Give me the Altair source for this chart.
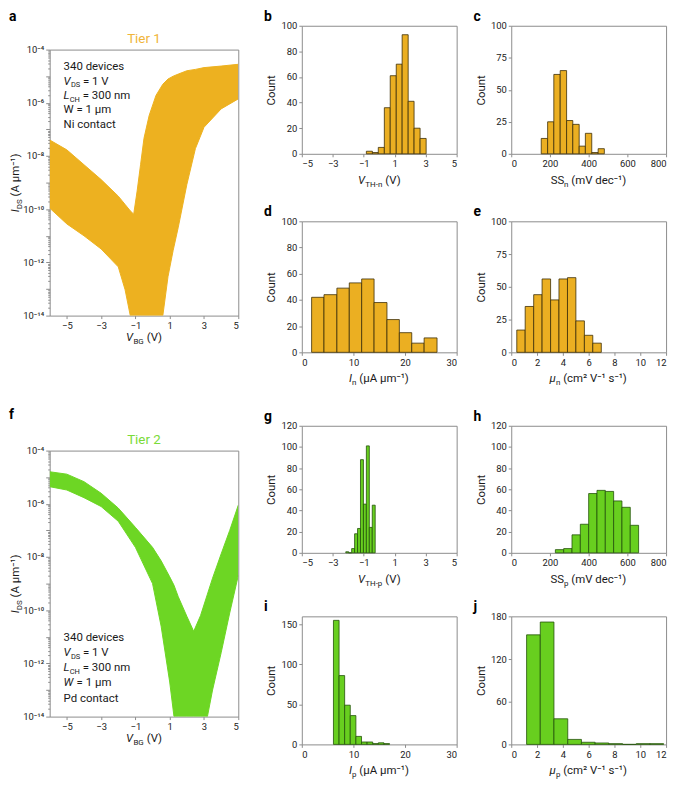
import altair as alt
import pandas as pd

# ---------------- data ----------------
# (a) Tier 1 transfer curves: envelope of the 340 curves
a_vbg = [-6, -5, -4, -3, -2, -1.6, -1.3, -1.1, -0.9, -0.7, -0.5, -0.2, 0.2, 0.6, 0.9, 1.2, 1.5, 2.0, 2.5, 3.0, 4.0, 5.0]
a_upper = [4.0e-8, 1.7e-8, 4.7e-9, 1.3e-9, 3.1e-10, 1.5e-10, 8.7e-11, 6.5e-11, 4.8e-10, 4.7e-9, 4.6e-8, 3.3e-7,
           1.9e-6, 5.0e-6, 7.8e-6, 1.0e-5, 1.2e-5, 1.6e-5, 1.8e-5, 2.1e-5, 2.4e-5, 2.8e-5]
a_lower = [1.1e-10, 2.8e-11, 1.0e-11, 3.2e-12, 6.8e-13, 9.3e-14, 1e-14, 1e-14, 1e-14, 1e-14, 1e-14, 1e-14,
           1e-14, 1e-14, 2.9e-13, 2.8e-12, 2.1e-11, 8.5e-10, 1.9e-8, 1.2e-7, 5.9e-7, 1.4e-6]

# (f) Tier 2 transfer curves: envelope of the 340 curves
f_vbg = [-6, -5, -4, -3, -2, -1, 0, 0.5, 1.0, 1.25, 1.5, 2.0, 2.4, 2.8, 3.2, 3.5, 4.0, 4.5, 5.0]
f_upper = [1.6e-5, 1.3e-5, 6.8e-6, 2.5e-6, 6.9e-7, 1.3e-7, 2.3e-8, 7.2e-9, 1.8e-9, 8.7e-10, 3.2e-10, 5.9e-11,
           1.6e-11, 6.3e-11, 4.0e-10, 1.6e-9, 1.3e-8, 1.0e-7, 8.9e-7]
f_lower = [4.4e-6, 3.3e-6, 1.7e-6, 7.9e-7, 2.2e-7, 2.3e-8, 1.0e-9, 2.5e-11, 2.0e-13, 1e-14, 1e-14, 1e-14,
           1e-14, 1e-14, 1e-14, 1.0e-13, 2.5e-12, 7.9e-11, 2.0e-9]

# histograms: bin edges and counts
b_edges = [-0.83, -0.44, -0.06, 0.33, 0.71, 1.10, 1.48, 1.87, 2.25, 2.64, 3.03]
b_counts = [2, 1, 5, 36, 61, 70, 93, 41, 20, 12]
c_edges = [155, 188, 220, 253, 286, 318, 351, 383, 416, 449, 481]
c_counts = [12, 25, 62, 65, 26, 23, 6, 16, 1, 4]
d_edges = [1.9, 4.3, 6.8, 9.2, 11.6, 14.0, 16.5, 18.9, 21.3, 23.7, 26.2]
d_counts = [42, 44, 49, 53, 56, 38, 25, 15, 7, 11]
e_edges = [0.43, 1.08, 1.74, 2.39, 3.05, 3.70, 4.36, 5.01, 5.67, 6.32, 6.98]
e_counts = [17, 35, 44, 56, 40, 56, 57, 24, 13, 7]
g_edges = [-2.16, -1.97, -1.78, -1.59, -1.40, -1.21, -1.02, -0.83, -0.64, -0.45, -0.26]
g_counts = [1, 0, 4, 18, 23, 88, 46, 101, 24, 45]
h_edges = [228, 271, 314, 357, 400, 443, 486, 529, 572, 615, 658]
h_counts = [3, 4, 17, 27, 56, 59, 58, 49, 43, 26]
i_edges = [6.13, 7.22, 8.30, 9.39, 10.48, 11.57, 12.65, 13.74, 14.83, 15.91, 17.0]
i_counts = [155, 86, 49, 36, 10, 3, 3, 1, 2, 1]
j_edges = [1.19, 2.25, 3.31, 4.38, 5.44, 6.50, 7.56, 8.63, 9.69, 10.75, 11.81]
j_counts = [154, 172, 36, 7, 3, 2, 1, 0, 1, 1]

# axis ticks
vth_ticks = [-5, -3, -1, 1, 3, 5]
ss_ticks = [0, 200, 400, 600, 800]
cur_ticks = [0, 10, 20, 30]
mob_ticks = [0, 2, 4, 6, 8, 10, 12]
cnt20 = [0, 20, 40, 60, 80, 100]
cnt25 = [0, 25, 50, 75, 100]
cnt120 = [0, 20, 40, 60, 80, 100, 120]
cnt_i = [0, 50, 100, 150]
cnt_j = [0, 60, 120, 180]
vbg_ticks = [-5, -3, -1, 1, 3, 5]
decades = [1e-4, 1e-5, 1e-6, 1e-7, 1e-8, 1e-9, 1e-10, 1e-11, 1e-12, 1e-13, 1e-14]
decade_labels = {-4: "10⁻⁴", -6: "10⁻⁶", -8: "10⁻⁸", -10: "10⁻¹⁰", -12: "10⁻¹²", -14: "10⁻¹⁴"}

# ---------------- style ----------------
FONT = "Roboto"
INK = "#1a1a1a"
FRAME = "#8c8c8c"
Y1_FILL, Y1_EDGE, Y1_LINE, Y1_TITLE = "#EBAF22", "#3d2f08", "#EDB120", "#F0B53A"
G2_FILL, G2_EDGE, G2_LINE, G2_TITLE = "#68CF1F", "#23520a", "#6DD624", "#7ADB38"
BIG, SUB = 11.5, 8
LET = 14

ONE = pd.DataFrame({"k": [0]})

CW = {ch: 0.562 for ch in "0123456789"}
CW.update({" ": 0.25, "(": 0.34, ")": 0.35, "-": 0.30, "=": 0.55, ".": 0.26, "V": 0.64, "S": 0.59,
           "I": 0.27, "T": 0.60, "H": 0.71, "D": 0.65, "B": 0.63, "G": 0.68, "C": 0.65, "L": 0.54,
           "W": 0.89, "N": 0.71, "P": 0.63, "A": 0.65, "a": 0.54, "b": 0.56, "c": 0.52, "d": 0.56,
           "e": 0.53, "h": 0.55, "i": 0.24, "m": 0.88, "n": 0.55, "o": 0.57, "p": 0.56, "r": 0.34,
           "s": 0.52, "t": 0.33, "u": 0.55, "v": 0.48, "µ": 0.57, "μ": 0.57, "²": 0.36, "¹": 0.36,
           "⁻": 0.42})


def tw(t, s):
    return sum(CW.get(ch, 0.55) for ch in t) * s


def txt(t, x, y, size=BIG, style="normal", weight="normal", color=INK, align="left", angle=0, dy=0):
    kw = dict(text=t, fontSize=size, fontStyle=style, fontWeight=weight, color=color,
              align=align, baseline="alphabetic", font=FONT)
    if angle:
        kw["angle"] = angle
    if dy:
        kw["dy"] = dy
    return alt.Chart(ONE).mark_text(**kw).encode(x=alt.value(x), y=alt.value(y))


def rich(pieces, x, y, anchor="middle", angle=0, color=INK):
    widths = [tw(t, s) for t, s, st, d in pieces]
    pos = -sum(widths) / 2 if anchor == "middle" else 0
    out = []
    for (t, s, st, d), w in zip(pieces, widths):
        lead = len(t) - len(t.lstrip(" "))
        off = pos + tw(" ", s) * lead
        if angle == 0:
            out.append(txt(t.lstrip(" "), x + off, y, size=s, style=st, dy=d, color=color))
        else:
            out.append(txt(t.lstrip(" "), x, y - off, size=s, style=st, dy=d, angle=270, color=color))
        pos += w
    return out


def frame_box(x0, y0, x1, y1):
    # invisible box fixing the layout extent of a panel
    return alt.Chart(ONE).mark_rect(opacity=0).encode(
        x=alt.value(x0), x2=alt.value(x1), y=alt.value(y0), y2=alt.value(y1))


# panel extents around the plot area (left, top, right, bottom)
HL, HT, HR, HB = 42, 19, 10, 36
AL, AT, AR, AB = 41, 22, 8, 36
FT = 47


def hist_panel(edges, counts, xdom, xticks, ydom, yticks, fill, edge, xtitle, letter, w, h):
    df = pd.DataFrame({"x0": edges[:-1], "x1": edges[1:], "n": counts, "z": [0] * len(counts)})
    bars = alt.Chart(df).mark_bar(fill=fill, stroke=edge, strokeWidth=0.8).encode(
        x=alt.X("x0:Q", scale=alt.Scale(domain=xdom, nice=False, zero=False),
                axis=alt.Axis(values=xticks, title=None, labelOverlap=False)),
        x2="x1:Q",
        y=alt.Y("n:Q", scale=alt.Scale(domain=ydom, nice=False),
                axis=alt.Axis(values=yticks, title="Count")),
        y2="z:Q",
    )
    layers = [bars] + rich(xtitle, w / 2, h + 30)
    layers += [txt(letter, -38, -5, size=LET, weight="bold", color="#000"),
               frame_box(-HL, -HT, w + HR, h + HB)]
    return alt.layer(*layers).properties(width=w, height=h)


def iv_panel(v, up, lo, color, tcolor, tier, notes, notes_y, letter, w, h, top_ext):
    df = pd.DataFrame({"v": v, "up": up, "lo": lo})
    xs = alt.Scale(domain=[-6, 5], nice=False, zero=False)
    ys = alt.Scale(type="log", domain=[1e-14, 1e-4], nice=False, clamp=True)
    xax = alt.Axis(values=vbg_ticks, title=None, labelOverlap=False)
    expo = "round(log(datum.value)/LN10)"
    lab = " : ".join(f"{expo} == {k} ? '{s}'" for k, s in decade_labels.items()) + " : ''"
    minors = [m * 10.0 ** e for e in range(-14, -4) for m in range(2, 10)]
    area = alt.Chart(df).mark_area(color=color, opacity=1, clip=True).encode(
        x=alt.X("v:Q", scale=xs, axis=xax),
        y=alt.Y("up:Q", scale=ys, axis=alt.Axis(values=decades, labelExpr=lab, title=None,
                                                 orient="left", tickSize=4, labelOverlap=False)),
        y2="lo:Q",
    )
    edge_up = alt.Chart(df).mark_line(color=color, strokeWidth=1, clip=True).encode(
        x=alt.X("v:Q", scale=xs, axis=xax),
        y=alt.Y("up:Q", scale=ys, axis=alt.Axis(values=minors, labels=False, title=None,
                                                 orient="left", tickSize=2)),
    )
    edge_lo = alt.Chart(df).mark_line(color=color, strokeWidth=1, clip=True).encode(
        x=alt.X("v:Q", scale=xs, axis=xax),
        y=alt.Y("lo:Q", scale=ys, axis=None),
    )
    layers = [area, edge_up, edge_lo]
    layers += rich([("V", BIG, "italic", 0), ("BG", SUB, "normal", 3), (" (V)", BIG, "normal", 0)], w / 2, h + 26)
    layers += rich([("I", BIG, "italic", 0), ("DS", SUB, "normal", 3), (" (A µm⁻¹)", BIG, "normal", 0)],
                   -31, h / 2, angle=270)
    layers.append(txt(tier, w / 2, -7, size=13.5, color=tcolor, align="center"))
    if letter:
        layers.append(txt(letter, -41, -32, size=LET, weight="bold", color="#000"))
    for k, line in enumerate(notes):
        layers += rich(line, 14, notes_y[0] + k * notes_y[1], anchor="start")
    layers.append(frame_box(-AL, -top_ext, w + AR, h + AB))
    return alt.layer(*layers).resolve_axis(y="independent").properties(width=w, height=h)


LW, LH = 190, 268
MW = 156
rows_h = [129, 132, 128, 129]
NS = 7.5

notes_a = [
    [("340 devices", BIG, "normal", 0)],
    [("V", BIG, "italic", 0), ("DS", NS, "normal", 2.5), (" = 1 V", BIG, "normal", 0)],
    [("L", BIG, "italic", 0), ("CH", NS, "normal", 2.5), (" = 300 nm", BIG, "normal", 0)],
    [("W = 1 µm", BIG, "normal", 0)],
    [("Ni contact", BIG, "normal", 0)],
]
notes_f = [
    [("340 devices", BIG, "normal", 0)],
    [("V", BIG, "italic", 0), ("DS", NS, "normal", 2.5), (" = 1 V", BIG, "normal", 0)],
    [("L", BIG, "italic", 0), ("CH", NS, "normal", 2.5), (" = 300 nm", BIG, "normal", 0)],
    [("W", BIG, "italic", 0), (" = 1 µm", BIG, "normal", 0)],
    [("Pd contact", BIG, "normal", 0)],
]

pa = iv_panel(a_vbg, a_upper, a_lower, Y1_LINE, Y1_TITLE, "Tier 1", notes_a, (21, 14.4), None, LW, LH, AT)
pf = iv_panel(f_vbg, f_upper, f_lower, G2_LINE, G2_TITLE, "Tier 2", notes_f, (192, 15.2), "f", LW, LH, FT)


def T(sym, sub, unit, italic=True):
    return [(sym, BIG, "italic" if italic else "normal", 0), (sub, SUB, "normal", 3), (" " + unit, BIG, "normal", 0)]


pb = hist_panel(b_edges, b_counts, [-5, 5], vth_ticks, [0, 100], cnt20, Y1_FILL, Y1_EDGE,
                T("V", "TH-n", "(V)"), "b", MW, rows_h[0])
pc = hist_panel(c_edges, c_counts, [0, 800], ss_ticks, [0, 100], cnt25, Y1_FILL, Y1_EDGE,
                T("SS", "n", "(mV dec⁻¹)", False), "c", MW, rows_h[0])
pd_ = hist_panel(d_edges, d_counts, [0, 30], cur_ticks, [0, 100], cnt20, Y1_FILL, Y1_EDGE,
                 T("I", "n", "(µA µm⁻¹)"), "d", MW, rows_h[1])
pe = hist_panel(e_edges, e_counts, [0, 12], mob_ticks, [0, 100], cnt25, Y1_FILL, Y1_EDGE,
                T("μ", "n", "(cm² V⁻¹ s⁻¹)"), "e", MW, rows_h[1])
pg = hist_panel(g_edges, g_counts, [-5, 5], vth_ticks, [0, 120], cnt120, G2_FILL, G2_EDGE,
                T("V", "TH-p", "(V)"), "g", MW, rows_h[2])
ph = hist_panel(h_edges, h_counts, [0, 800], ss_ticks, [0, 120], cnt120, G2_FILL, G2_EDGE,
                T("SS", "p", "(mV dec⁻¹)", False), "h", MW, rows_h[2])
pi = hist_panel(i_edges, i_counts, [0, 30], cur_ticks, [0, 160], cnt_i, G2_FILL, G2_EDGE,
                T("I", "p", "(µA µm⁻¹)"), "i", MW, rows_h[3])
pj = hist_panel(j_edges, j_counts, [0, 12], mob_ticks, [0, 180], cnt_j, G2_FILL, G2_EDGE,
                T("μ", "p", "(cm² V⁻¹ s⁻¹)"), "j", MW, rows_h[3])

# top strip of the left column, carrying the panel letter "a"
spacer = alt.layer(
    txt("a", -41, -5, size=LET, weight="bold", color="#000"),
    frame_box(-AL, -HT, LW, 1),
).properties(width=LW, height=1, view=alt.ViewBackground(strokeOpacity=0))

r1 = alt.hconcat(pb, pc, spacing=1)
r2 = alt.hconcat(pd_, pe, spacing=1)
r3 = alt.hconcat(pg, ph, spacing=1)
r4 = alt.hconcat(pi, pj, spacing=1)
grid = alt.vconcat(
    alt.vconcat(r1, r2, spacing=11),
    alt.vconcat(r3, r4, spacing=7),
    spacing=17,
)
left = alt.vconcat(alt.vconcat(spacer, pa, spacing=0), pf, spacing=51)

chart = alt.hconcat(left, grid, spacing=12).properties(
    padding={"left": 0, "top": -5, "right": 0, "bottom": 0}
).configure_view(stroke=FRAME, strokeWidth=1).configure_axis(
    labelFont=FONT, labelFontSize=9.5, labelColor="#222", titleFont=FONT, titleFontSize=BIG,
    titleColor=INK, titleFontWeight="normal", domain=False, grid=False, tickColor=FRAME,
    tickSize=3, labelPadding=2, titlePadding=4, labelOverlap=False,
).configure_text(font=FONT)

chart.save("out.html", embed_options={"renderer": "svg", "actions": False})
